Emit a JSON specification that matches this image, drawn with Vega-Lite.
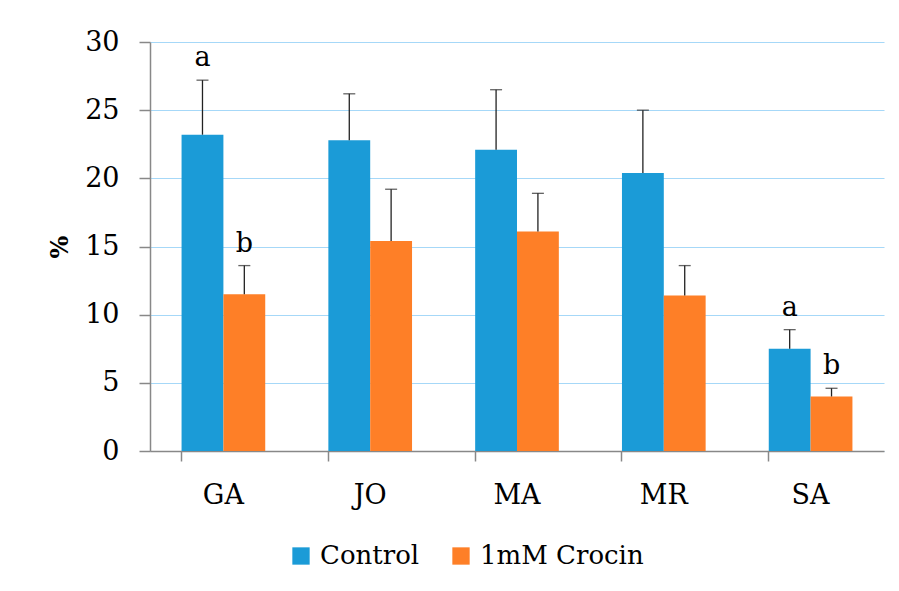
{
  "$schema": "https://vega.github.io/schema/vega-lite/v6.json",
  "width": 734,
  "height": 409,
  "autosize": {"type": "none"},
  "padding": {"left": 150, "top": 42, "right": 15, "bottom": 140},
  "background": "white",
  "config": {
    "font": "DejaVu Serif",
    "axis": {"labelFont": "DejaVu Serif", "titleFont": "DejaVu Serif"},
    "legend": {"labelFont": "DejaVu Serif"},
    "text": {"font": "DejaVu Serif"},
    "view": {"stroke": null}
  },
  "data": {
    "values": [
      {"site": "GA", "group": "Control", "value": 23.2, "err": 27.2, "letter": "a"},
      {"site": "GA", "group": "1mM Crocin", "value": 11.5, "err": 13.6, "letter": "b"},
      {"site": "JO", "group": "Control", "value": 22.8, "err": 26.2, "letter": ""},
      {"site": "JO", "group": "1mM Crocin", "value": 15.4, "err": 19.2, "letter": ""},
      {"site": "MA", "group": "Control", "value": 22.1, "err": 26.5, "letter": ""},
      {"site": "MA", "group": "1mM Crocin", "value": 16.1, "err": 18.9, "letter": ""},
      {"site": "MR", "group": "Control", "value": 20.4, "err": 25.0, "letter": ""},
      {"site": "MR", "group": "1mM Crocin", "value": 11.4, "err": 13.6, "letter": ""},
      {"site": "SA", "group": "Control", "value": 7.5, "err": 8.9, "letter": "a"},
      {"site": "SA", "group": "1mM Crocin", "value": 4.0, "err": 4.6, "letter": "b"}
    ]
  },
  "encoding": {
    "x": {
      "field": "site",
      "type": "nominal",
      "scale": {"paddingInner": 0.43, "paddingOuter": 0.215},
      "axis": {
        "title": null,
        "labelAngle": 0,
        "bandPosition": 0,
        "domainColor": "#888888",
        "domainWidth": 1.5,
        "tickColor": "#888888",
        "tickWidth": 1.5,
        "tickSize": 10,
        "labelFontSize": 27,
        "labelColor": "black",
        "labelPadding": 42,
        "labelBaseline": "alphabetic",
        "grid": false
      }
    },
    "xOffset": {"field": "group", "type": "nominal", "sort": ["Control", "1mM Crocin"]}
  },
  "layer": [
    {
      "mark": {"type": "bar"},
      "encoding": {
        "y": {
          "field": "value",
          "type": "quantitative",
          "scale": {"domain": [0, 30]},
          "axis": {
            "values": [0, 5, 10, 15, 20, 25, 30],
            "gridColor": "#a6d8f8",
            "gridWidth": 1.2,
            "domainColor": "#888888",
            "domainWidth": 1.5,
            "tickColor": "#888888",
            "tickWidth": 1.5,
            "tickSize": 11,
            "labelFontSize": 27,
            "labelColor": "black",
            "labelPadding": 20,
            "title": "%",
            "titleFontSize": 24,
            "titleFontWeight": "bold",
            "titleColor": "black",
            "titlePadding": 12
          }
        },
        "color": {
          "field": "group",
          "type": "nominal",
          "sort": ["Control", "1mM Crocin"],
          "scale": {"domain": ["Control", "1mM Crocin"], "range": ["#1b9bd7", "#fe7f27"]},
          "legend": {
            "orient": "none",
            "direction": "horizontal",
            "legendX": 138,
            "legendY": 501,
            "title": null,
            "symbolType": "square",
            "symbolSize": 300,
            "symbolStrokeWidth": 0,
            "labelFontSize": 26,
            "labelColor": "black",
            "labelOffset": 6,
            "labelLimit": 0,
            "columnPadding": 28,
            "padding": 0
          }
        }
      }
    },
    {
      "mark": {"type": "rule", "color": "#222222", "strokeWidth": 1.3},
      "encoding": {
        "y": {"field": "value", "type": "quantitative"},
        "y2": {"field": "err"}
      }
    },
    {
      "mark": {"type": "tick", "color": "#222222", "thickness": 1.3, "size": 12, "orient": "horizontal"},
      "encoding": {
        "y": {"field": "err", "type": "quantitative"}
      }
    },
    {
      "mark": {"type": "text", "baseline": "alphabetic", "dy": -14, "fontSize": 27, "color": "black"},
      "encoding": {
        "y": {"field": "err", "type": "quantitative"},
        "text": {"field": "letter"}
      }
    }
  ]
}
